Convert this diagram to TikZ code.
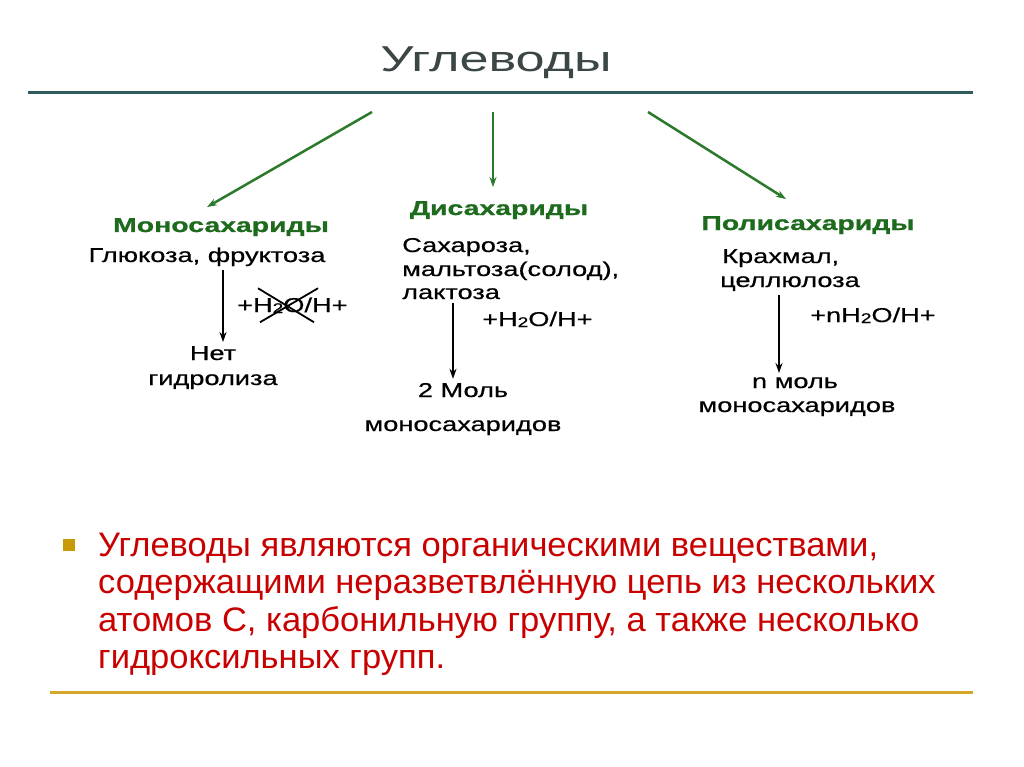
\documentclass[tikz,border=0pt]{standalone}
\usepackage{fontspec}
\setmainfont{Liberation Sans}
\newfontfamily\wideface[FakeStretch=1.36, FakeBold=0.5]{Liberation Sans}
\newfontfamily\headface[FakeStretch=1.42, FakeBold=0.9]{Liberation Sans}
\newfontfamily\titleface[FakeStretch=1.45]{Liberation Sans}
\newfontfamily\slideface[FakeStretch=1.015]{Liberation Sans}
\usetikzlibrary{arrows.meta}

\definecolor{titlegray}{HTML}{3C4646}
\definecolor{rulecolor}{HTML}{2E5B5B}
\definecolor{arrowgreen}{HTML}{2B7A2B}
\definecolor{headgreen}{HTML}{1E6B1E}
\definecolor{slidered}{HTML}{C80000}
\definecolor{bulletgold}{HTML}{C99A06}
\definecolor{linegold}{HTML}{D4A62A}

\newcommand{\htwo}{\raisebox{-1pt}{\fontsize{14}{14}\selectfont 2}}

\tikzset{
  head/.style={font=\headface\bfseries\fontsize{20}{22}\selectfont, text=headgreen, inner sep=0pt, anchor=base},
  item/.style={font=\wideface\fontsize{20}{22}\selectfont, inner sep=0pt, anchor=base},
  itemleft/.style={item, anchor=base west},
  bodyline/.style={font=\slideface\fontsize{34}{38}\selectfont, text=slidered, inner sep=0pt, anchor=base west},
  greenarrow/.style={->, draw=arrowgreen, line width=2.5pt},
  flow/.style={->, line width=2pt, shorten <=4pt, shorten >=4pt}
}

\begin{document}
\begin{tikzpicture}[x=1pt, y=-1pt, >={Stealth[length=10pt,width=7pt]}]

\fill[white] (0,0) rectangle (1024,767);
\useasboundingbox (0,0) rectangle (1024,767);

% Title and rule
\node (title) [font=\titleface\fontsize{36}{40}\selectfont, text=titlegray, inner sep=0pt, anchor=base] at (496,72) {Углеводы};
\draw[rulecolor, line width=3pt] (28,93) -- (973,93);

% Headings
\node (mono) [head] at (221,232) {Моносахариды};
\node (di)   [head] at (499,215) {Дисахариды};
\node (poly) [head] at (808,230) {Полисахариды};

% Green arrows from the title
\coordinate (t1) at (372,112);
\coordinate (t2) at (493,112);
\coordinate (t3) at (648,112);
\draw[greenarrow] (t1) -- ([shift={(-14,-11)}]mono.north);
\draw[greenarrow] (t2) -- ([shift={(-6,-14)}]di.north);
\draw[greenarrow] (t3) -- ([shift={(-22,-17)}]poly.north);

% Monosaccharides
\node (gluc) [item] at (207,262) {Глюкоза, фруктоза};
\node (lab1) [item, anchor=base west] at (237,312) {+H\htwo O/H+};
\node (net)  [item] at (213,360) {Нет};
\node (hyd)  [item] at (213,385) {гидролиза};
\coordinate (a1) at ([xshift=10]net.north);
\draw[flow] (gluc.south -| a1) -- (a1);
\draw[line width=1.8pt] ([shift={(21,-17)}]lab1.west) -- ([shift={(77,17)}]lab1.west);
\draw[line width=1.8pt] ([shift={(81,-17)}]lab1.west) -- ([shift={(23,17)}]lab1.west);

% Disaccharides
\node (sakh) [itemleft] at (402,252) {Сахароза,};
\node (malt) [itemleft] at (402,276) {мальтоза(солод),};
\node (lakt) [itemleft] at (402,299) {лактоза};
\node (lab2) [item, anchor=base west] at (482,326) {+H\htwo O/H+};
\node (twomol) [item] at (463,397) {2 Моль};
\node (mono2)  [item] at (463,431) {моносахаридов};
\coordinate (a2) at ([xshift=-10]twomol.north);
\draw[flow] (lakt.south -| a2) -- (a2);

% Polysaccharides
\node (krah) [itemleft] at (722,263) {Крахмал,};
\node (cell) [itemleft] at (720,287) {целлюлоза};
\node (lab3) [item, anchor=base west] at (810,322) {+nH\htwo O/H+};
\node (nmol)  [item] at (795,388) {n моль};
\node (mono3) [item] at (797,412) {моносахаридов};
\coordinate (a3) at ([xshift=-16]nmol.north);
\draw[flow] (cell.south -| a3) -- (a3);

% Bullet text
\node (bul) [fill=bulletgold, minimum size=12pt, inner sep=0pt] at (69,545) {};
\node (l1) [bodyline] at (98,556) {Углеводы являются органическими веществами,};
\node (l2) [bodyline] at (98,593) {содержащими неразветвлённую цепь из нескольких};
\node (l3) [bodyline] at (98,631) {атомов С, карбонильную группу, а также несколько};
\node (l4) [bodyline] at (98,668) {гидроксильных групп.};
\draw[linegold, line width=3pt] (50,692) -- (973,692);

\end{tikzpicture}
\end{document}
